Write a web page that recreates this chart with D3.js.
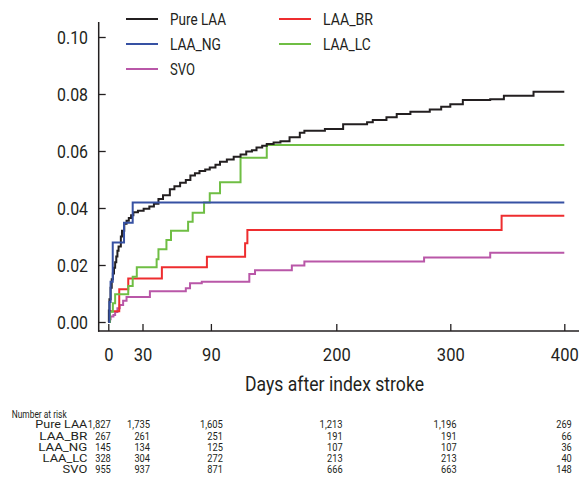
<!DOCTYPE html>
<html>
<head>
<meta charset="utf-8">
<script src="https://cdn.jsdelivr.net/npm/d3@7"></script>
<style>
  html, body { margin: 0; padding: 0; background: #fff; }
  svg text { font-family: Roboto, 'Liberation Sans', sans-serif; fill: #231f20; }
</style>
</head>
<body>
<svg id="chart" width="579" height="486"></svg>
<script>
// ---------------- data ----------------
const seriesNames = ["Pure LAA", "LAA_BR", "LAA_NG", "LAA_LC", "SVO"];
const seriesColors = ["#231f20", "#ee2d2f", "#3651a3", "#6fbe44", "#b957a8"];

const pureLaaDays = [0,0.5,1,2,3,4,5,6,7,8,9,11,12,14,16,18,20,22,26,31,36,40,44,48,54,58,63,68,72,76,80,85,89,94,98,104,110,116,121,126,130,135,139,145,151,159,168,172,190,206,227,232,244,253,265,282,292,300,311,335,347,373,400];
const pureLaaRisk = [0,0.004,0.008,0.012,0.015,0.017,0.019,0.021,0.023,0.025,0.0265,0.030,0.032,0.0345,0.0355,0.0365,0.0375,0.0385,0.039,0.0397,0.0405,0.0415,0.0432,0.0445,0.0466,0.0476,0.0489,0.0498,0.0514,0.0522,0.053,0.0535,0.0542,0.0552,0.0562,0.057,0.058,0.0588,0.0598,0.0603,0.0612,0.0618,0.0625,0.063,0.0634,0.0648,0.0664,0.0671,0.0677,0.0694,0.0701,0.0709,0.0718,0.073,0.0738,0.0746,0.0755,0.0764,0.0779,0.0782,0.0794,0.0808,0.0808];

const laaBrDays = [0,1.5,9.6,17.5,47,86.5,120,122,345,400];
const laaBrRisk = [0,0.0038,0.0115,0.0153,0.0192,0.0229,0.0276,0.0323,0.0373,0.0373];

const laaNgDays = [0,1,2,3.9,13.8,21.4,400];
const laaNgRisk = [0,0.007,0.0141,0.0279,0.0348,0.0419,0.0419];

const laaLcDays = [0,1.5,4,6,17.5,21.4,25,42.4,44,51,55,70,74,84,89,98,116,139,400];
const laaLcRisk = [0,0.0036,0.0066,0.0097,0.0126,0.0159,0.0192,0.022,0.0255,0.0288,0.032,0.0352,0.0383,0.0419,0.0452,0.049,0.0576,0.0621,0.0621];

const svoDays = [0,1,2,4.5,6,8,10,13,16,36.5,68,71.7,82,123.7,128.7,161,172,277,335,400];
const svoRisk = [0,0.001,0.0019,0.0025,0.0035,0.0048,0.006,0.0075,0.0088,0.0108,0.0118,0.0136,0.0141,0.0168,0.0182,0.0198,0.0212,0.0226,0.0243,0.0243];

const yTicks = [0, 0.02, 0.04, 0.06, 0.08, 0.10];
const xTicks = [0, 30, 90, 200, 300, 400];
const xLabel = "Days after index stroke";

const riskTitle = "Number at risk";
const riskDays = [0, 30, 90, 200, 300, 400];
const riskPureLaa = ["1,827","1,735","1,605","1,213","1,196","269"];
const riskLaaBr   = ["267","261","251","191","191","66"];
const riskLaaNg   = ["145","134","125","107","107","36"];
const riskLaaLc   = ["328","304","272","213","213","40"];
const riskSvo     = ["955","937","871","666","663","148"];

// ---------------- drawing ----------------
const svg = d3.select("#chart");
const x = d3.scaleLinear().domain([0, 400]).range([108.3, 564.3]);
const y = d3.scaleLinear().domain([0, 0.1]).range([322, 37]);

const axisColor = "#231f20";
const yAxisX = 98.7, xAxisY = 331;
const digitW = 9.3;   // condensed digit advance for tick labels
const textW = s => s.split("").reduce((a, ch) => a + (ch === "." || ch === "," ? 3 : digitW), 0);

// y axis
const gy = svg.append("g").attr("transform", `translate(${yAxisX},0)`)
  .call(d3.axisLeft(y).tickValues(yTicks).tickFormat(d3.format(".2f")).tickSize(-7).tickPadding(10.7));
gy.select(".domain").remove();
gy.selectAll(".tick line").attr("stroke", axisColor).attr("stroke-width", 1.3);
gy.selectAll(".tick text").attr("font-size", 19).attr("dy", "0.36em").style("fill", axisColor)
  .attr("textLength", d => textW(d3.format(".2f")(d))).attr("lengthAdjust", "spacingAndGlyphs");
svg.append("line").attr("x1", yAxisX).attr("x2", yAxisX).attr("y1", 22).attr("y2", xAxisY + 0.7)
  .attr("stroke", axisColor).attr("stroke-width", 1.5);

// x axis
const gx = svg.append("g").attr("transform", `translate(0,${xAxisY})`)
  .call(d3.axisBottom(x).tickValues(xTicks).tickFormat(d3.format("d")).tickSize(-7).tickPadding(16.6));
gx.select(".domain").remove();
gx.selectAll(".tick line").attr("stroke", axisColor).attr("stroke-width", 1.3);
gx.selectAll(".tick text").attr("font-size", 18.2).attr("dy", "0.71em").style("fill", axisColor)
  .attr("textLength", d => textW(String(d))).attr("lengthAdjust", "spacingAndGlyphs");
svg.append("line").attr("x1", yAxisX - 0.7).attr("x2", 579).attr("y1", xAxisY).attr("y2", xAxisY)
  .attr("stroke", axisColor).attr("stroke-width", 1.5);

svg.append("text").attr("x", 245).attr("y", 391)
  .attr("font-size", 19.5).attr("textLength", 179).attr("lengthAdjust", "spacingAndGlyphs").text(xLabel);

// curves
const seriesDays = [pureLaaDays, laaBrDays, laaNgDays, laaLcDays, svoDays];
const seriesRisk = [pureLaaRisk, laaBrRisk, laaNgRisk, laaLcRisk, svoRisk];
const line = d3.line().x(d => x(d[0])).y(d => y(d[1])).curve(d3.curveStepAfter);
const drawOrder = [4, 1, 3, 0, 2];
drawOrder.forEach(i => {
  const pts = seriesDays[i].map((d, j) => [d, seriesRisk[i][j]]);
  svg.append("path").datum(pts).attr("d", line).attr("fill", "none")
    .attr("stroke", seriesColors[i]).attr("stroke-width", 2);
});

// legend
const legendItems = [
  {i: 0, col: 0, row: 0}, {i: 2, col: 0, row: 1}, {i: 4, col: 0, row: 2},
  {i: 1, col: 1, row: 0}, {i: 3, col: 1, row: 1}
];
const legendTextW = [56, 50, 51, 47.6, 25];
legendItems.forEach(it => {
  const lx = it.col === 0 ? 126 : 279;
  const ly = 19 + it.row * 25;
  svg.append("line").attr("x1", lx).attr("x2", lx + 32).attr("y1", ly).attr("y2", ly)
    .attr("stroke", seriesColors[it.i]).attr("stroke-width", 2);
  svg.append("text").attr("x", lx + 44).attr("y", ly + 6.2).attr("font-size", 17.3)
    .attr("textLength", legendTextW[it.i]).attr("lengthAdjust", "spacingAndGlyphs").text(seriesNames[it.i]);
});

// risk table
const rowLabelW = [52, 48, 49, 44.7, 24.7];
const tableFont = 11.5;
svg.append("text").attr("x", 11.7).attr("y", 418.3).attr("font-size", tableFont)
  .attr("textLength", 55).attr("lengthAdjust", "spacingAndGlyphs").text(riskTitle);
const riskRows = [riskPureLaa, riskLaaBr, riskLaaNg, riskLaaLc, riskSvo];
const colNudge = [2.5, 7.5, 12, 6.3, 6.3, 7.5];
const numW = s => s.split("").reduce((a, ch) => a + (ch === "," ? 2.2 : 5.2), 0);
riskRows.forEach((row, r) => {
  const by = 428.3 + r * 11.25;
  svg.append("text").attr("x", 87.3 - rowLabelW[r]).attr("y", by).attr("font-size", tableFont)
    .attr("textLength", rowLabelW[r]).attr("lengthAdjust", "spacingAndGlyphs").text(seriesNames[r]);
  row.forEach((v, c) => {
    const w = numW(v);
    svg.append("text").attr("x", x(riskDays[c]) + colNudge[c] - w).attr("y", by)
      .attr("font-size", tableFont).attr("textLength", w).attr("lengthAdjust", "spacingAndGlyphs").text(v);
  });
});
</script>
</body>
</html>
